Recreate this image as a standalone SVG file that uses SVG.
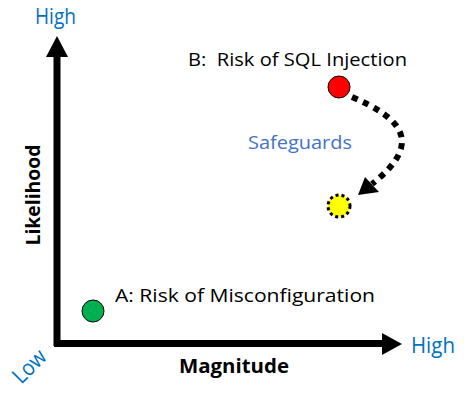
<svg xmlns="http://www.w3.org/2000/svg" width="467" height="394" viewBox="0 0 467 394">
<style>
.t{font-family:"Open Sans","Noto Sans",sans-serif;font-size:19px;fill:#000}
.b{font-weight:bold;font-size:19.5px}
.big{font-size:22px}
.blue{fill:#0070C0}
.sg{fill:#4472C4}
</style>
<rect width="467" height="394" fill="#fff"/>
<g id="axes">
<line x1="57" y1="346" x2="57" y2="56" stroke="#000" stroke-width="7"/>
<polygon points="46,57 68,57 57,36" fill="#000"/>
<line x1="54" y1="343.5" x2="383" y2="343.5" stroke="#000" stroke-width="7"/>
<polygon points="382,333 382,355 402,344" fill="#000"/>
</g>
<g id="labels">
<text class="t big blue" x="35" y="23.5" textLength="41" lengthAdjust="spacingAndGlyphs">High</text>
<text class="t big blue" x="411" y="353" textLength="44" lengthAdjust="spacingAndGlyphs">High</text>
<text class="t big blue" transform="translate(29,366) rotate(-45)" text-anchor="middle" dy="8" textLength="38" lengthAdjust="spacingAndGlyphs">Low</text>
<text class="t b" x="234" y="373" text-anchor="middle" textLength="110" lengthAdjust="spacingAndGlyphs">Magnitude</text>
<text class="t b" transform="translate(40,195) rotate(-90)" text-anchor="middle" textLength="101" lengthAdjust="spacingAndGlyphs">Likelihood</text>
</g>
<g id="connectors">
<path d="M352,97 C396,116 428,140 372,184" fill="none" stroke="#000" stroke-width="6" stroke-dasharray="6,6"/>
<polygon points="358,195 365,177 379,192" fill="#000"/>
</g>
<g id="nodeA">
<circle cx="93" cy="311" r="11" fill="#00B050" stroke="#000" stroke-width="1"/>
<text class="t" x="115" y="302" textLength="260" lengthAdjust="spacingAndGlyphs">A: Risk of Misconfiguration</text>
</g>
<g id="nodeB">
<circle cx="339" cy="87" r="11" fill="#FF0000" stroke="#000" stroke-width="1"/>
<text class="t" x="188" y="66" xml:space="preserve" textLength="219" lengthAdjust="spacingAndGlyphs">B:  Risk of SQL Injection</text>
</g>
<g id="nodeSafe">
<circle cx="339" cy="206" r="11" fill="#FFFF00" stroke="#000" stroke-width="3" stroke-dasharray="3,3"/>
<text class="t sg" x="248" y="149" textLength="104" lengthAdjust="spacingAndGlyphs">Safeguards</text>
</g>
</svg>
